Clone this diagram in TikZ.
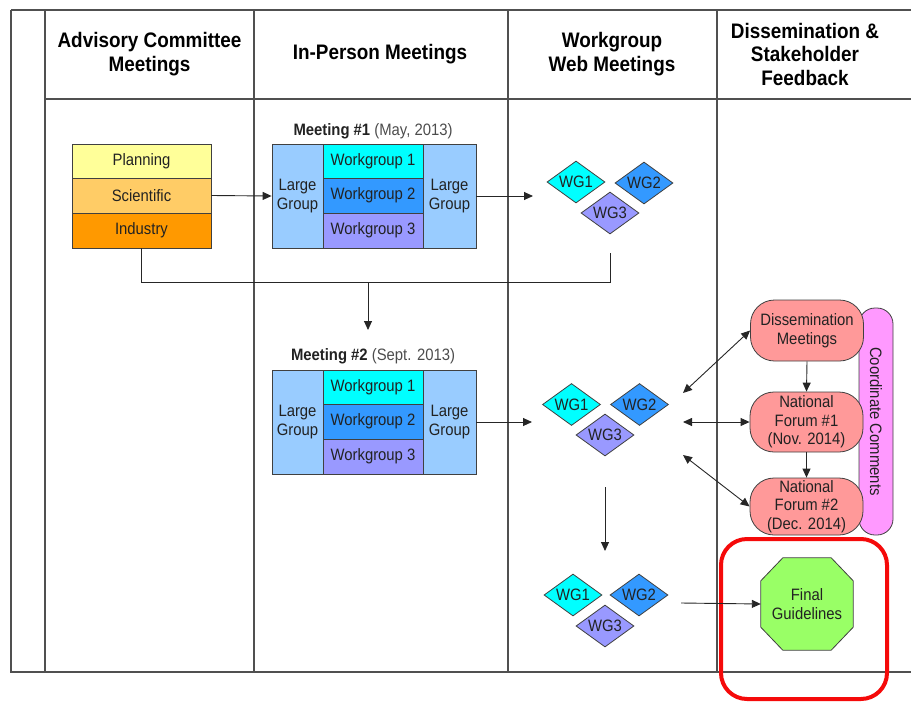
\documentclass[tikz,border=0pt]{standalone}
\usepackage{fontspec}
\setmainfont{Liberation Sans}[FakeStretch=0.9]
\usetikzlibrary{arrows.meta,shapes.geometric}

\definecolor{frameline}{HTML}{505050}
\definecolor{boxline}{HTML}{404040}
\definecolor{txt}{HTML}{222222}
\definecolor{plan}{HTML}{FFFF99}
\definecolor{sci}{HTML}{FFCC66}
\definecolor{ind}{HTML}{FF9900}
\definecolor{lgblue}{HTML}{99CCFF}
\definecolor{wga}{HTML}{00FFFF}
\definecolor{wgb}{HTML}{3399FF}
\definecolor{wgc}{HTML}{9999FF}
\definecolor{salmon}{HTML}{FF9999}
\definecolor{violet}{HTML}{FF99FF}
\definecolor{lime}{HTML}{99FF66}
\definecolor{alert}{HTML}{F50A0A}

\newcommand{\lblfont}{\fontsize{16.5}{18.5}\selectfont}
\newcommand{\hdrfont}{\bfseries\fontsize{21}{23.5}\selectfont}

\begin{document}
\begin{tikzpicture}[x=1pt,y=-1pt,
  frame/.style={draw=frameline,line width=1.6pt},
  hdr/.style={font=\hdrfont,align=center,text=black,inner sep=0},
  cell/.style={draw=boxline,line width=0.8pt,inner sep=0,font=\lblfont,text=txt,align=center},
  wgdiam/.style={diamond,draw=boxline,line width=0.8pt,inner sep=0,aspect=1.38,
    minimum width=58pt,minimum height=42pt,font=\lblfont,text=txt},
  pill/.style={draw=boxline,line width=0.8pt,fill=salmon,rounded corners=24pt,inner sep=0,
    minimum width=113pt,font=\lblfont,text=txt,align=center},
  mlabel/.style={font=\lblfont,inner sep=0,text=txt},
  link/.style={draw=black!85,line width=0.9pt},
  arr/.style={link,-{Triangle[length=9pt,width=8pt]}},
  darr/.style={link,{Triangle[length=9pt,width=8pt]}-{Triangle[length=9pt,width=8pt]}}
]
\useasboundingbox (0,0) rectangle (911,702);

% swimlane frame
\draw[frame] (11,10) -- (911,10);
\draw[frame] (11,10) -- (11,672) -- (911,672);
\draw[frame] (45,10) -- (45,672);
\draw[frame] (45,99) -- (911,99);
\foreach \xx in {254,508,717} \draw[frame] (\xx,10) -- (\xx,672);

% lane headers
\node[hdr] (h1) at (149.5,54) {Advisory Committee\\Meetings};
\node[hdr] (h2) at (380,54) {In-Person Meetings};
\node[hdr] (h3) at (612,54) {Workgroup\\Web Meetings};
\node[hdr] (h4) at (805,54) {Dissemination \&\\Stakeholder\\Feedback};

% advisory committee stack
\node[cell,fill=plan,minimum width=139pt,minimum height=34pt] (plan) at (141.5,161) {Planning};
\node[cell,fill=sci,minimum width=139pt,minimum height=35pt] (sci) at (141.5,195.5) {Scientific};
\node[cell,fill=ind,minimum width=139pt,minimum height=35pt] (ind) at (141.5,230.5) {Industry};

% meeting #1
\node[mlabel] (m1) at (373,131) {\textbf{Meeting \#1} {\color{black!70}(May, 2013)}};
\node[cell,fill=lgblue,minimum width=51pt,minimum height=104pt] (lg1l) at (297.5,196) {Large\\Group};
\node[cell,fill=wga,minimum width=100pt,minimum height=34pt] (wg11) at (373,161) {Workgroup 1};
\node[cell,fill=wgb,minimum width=100pt,minimum height=35pt] (wg12) at (373,195.5) {Workgroup 2};
\node[cell,fill=wgc,minimum width=100pt,minimum height=35pt] (wg13) at (373,230.5) {Workgroup 3};
\node[cell,fill=lgblue,minimum width=53pt,minimum height=104pt] (lg1r) at (449.5,196) {Large\\Group};

% meeting #2
\node[mlabel] (m2) at (373,356) {\textbf{Meeting \#2} {\color{black!70}(Sept. 2013)}};
\node[cell,fill=lgblue,minimum width=51pt,minimum height=104pt] (lg2l) at (297.5,422) {Large\\Group};
\node[cell,fill=wga,minimum width=100pt,minimum height=34pt] (wg21) at (373,387) {Workgroup 1};
\node[cell,fill=wgb,minimum width=100pt,minimum height=35pt] (wg22) at (373,421.5) {Workgroup 2};
\node[cell,fill=wgc,minimum width=100pt,minimum height=35pt] (wg23) at (373,456.5) {Workgroup 3};
\node[cell,fill=lgblue,minimum width=53pt,minimum height=104pt] (lg2r) at (449.5,422) {Large\\Group};

% workgroup web meetings
\node[wgdiam,fill=wga] (d11) at (576,182) {WG1};
\node[wgdiam,fill=wgb] (d12) at (644,183) {WG2};
\node[wgdiam,fill=wgc] (d13) at (610,213) {WG3};

\node[wgdiam,fill=wga] (d21) at (571.5,404.5) {WG1};
\node[wgdiam,fill=wgb] (d22) at (639.5,404.5) {WG2};
\node[wgdiam,fill=wgc] (d23) at (605,435) {WG3};

\node[wgdiam,fill=wga] (d31) at (573,595) {WG1};
\node[wgdiam,fill=wgb] (d32) at (639,595) {WG2};
\node[wgdiam,fill=wgc] (d33) at (605,626) {WG3};

% dissemination lane
\node[draw=boxline,line width=0.8pt,fill=violet,rounded corners=16pt,rotate=-90,
  minimum width=227pt,minimum height=34pt,inner sep=0,font=\lblfont,text=txt] (cc) at (876,421.5) {Coordinate Comments};
\node[pill,minimum height=61pt] (dm) at (807,330.5) {Dissemination\\Meetings};
\node[pill,minimum height=60pt] (nf1) at (806.5,422) {National\\Forum \#1\\(Nov. 2014)};
\node[pill,minimum height=57pt] (nf2) at (806.5,506.5) {National\\Forum \#2\\(Dec. 2014)};

% final guidelines: octagon drawn on the node's box, text on top
\node[minimum width=92pt,minimum height=92pt,inner sep=0] (fg) at (807,604) {};
\filldraw[draw=boxline,line width=0.8pt,fill=lime]
  ([xshift=22pt]fg.north west) -- ([xshift=-22pt]fg.north east)
  -- ([yshift=-23pt]fg.north east) -- ([yshift=23pt]fg.south east)
  -- ([xshift=-22pt]fg.south east) -- ([xshift=22pt]fg.south west)
  -- ([yshift=23pt]fg.south west) -- ([yshift=-23pt]fg.north west) -- cycle;
\node[font=\lblfont,text=txt,align=center,inner sep=0] (fgtext) at (fg.center) {Final\\Guidelines};

\node[draw=alert,line width=4pt,rounded corners=26pt,minimum width=166pt,minimum height=160pt,inner sep=0] (focus) at (804,619) {};

% connector anchors
\coordinate (c1in) at (533,196);
\coordinate (c2in) at (532,422);
\coordinate (c1foot) at (610,253);
\coordinate (bus) at (610,282);
\coordinate (drop) at (368,282);
\coordinate (m2top) at (368,330);
\coordinate (c2out) at (605,487);
\coordinate (c3in) at (605,551);
\coordinate (c3out) at (681,603);
\coordinate (c2a) at (683,393);
\coordinate (c2b) at (683,422);
\coordinate (c2c) at (683,455);

% connectors
\draw[arr] (sci.east) -- (lg1l.west);
\draw[arr] (lg1r.east) -- (c1in);
\draw[link] (ind.south) |- (bus) -- (c1foot);
\draw[arr] (drop) -- (m2top);
\draw[arr] (lg2r.east) -- (c2in);
\draw[arr] (c2out) -- (c3in);
\draw[arr] (c3out) -- (fg.west);
\draw[darr] (c2a) -- (dm.west);
\draw[darr] (c2b) -- (nf1.west);
\draw[darr] (c2c) -- (nf2.west);
\draw[arr] (dm.south) -- (nf1.north);
\draw[arr] (nf1.south) -- (nf2.north);
\end{tikzpicture}
\end{document}
